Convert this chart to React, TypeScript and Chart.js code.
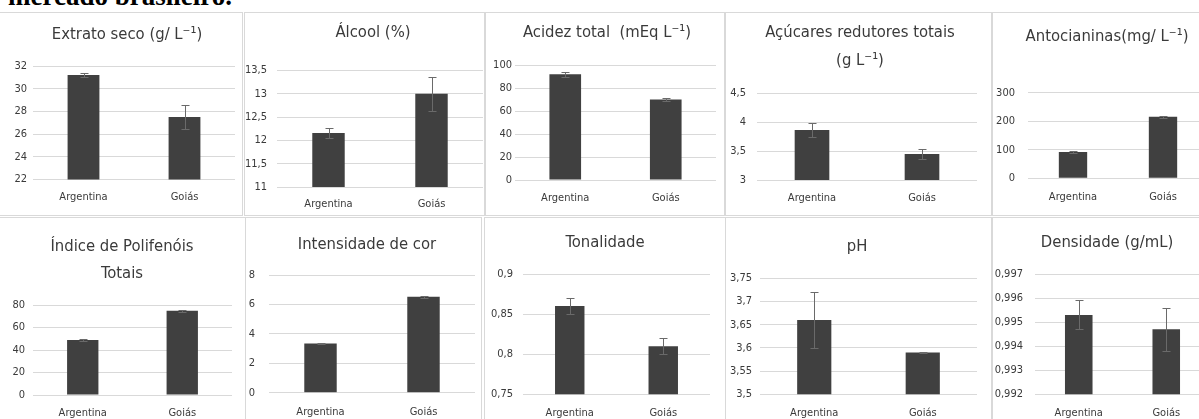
import React, { useEffect, useRef } from "react";
import { Chart, registerables } from "chart.js";

Chart.register(...registerables);

// ---------- DATA ----------
const categories = ["Argentina", "Goiás"];

const extratoSeco = [31.2, 27.5];
const extratoSecoErr = [0.2, 1.05];
const extratoSecoTicks = [22, 24, 26, 28, 30, 32];

const alcool = [12.16, 13.0];
const alcoolErr = [0.1, 0.36];
const alcoolTicks = [11, 11.5, 12, 12.5, 13, 13.5];

const acidez = [92, 70];
const acidezErr = [2.2, 1];
const acidezTicks = [0, 20, 40, 60, 80, 100];

const acucares = [3.86, 3.45];
const acucaresErr = [0.12, 0.08];
const acucaresTicks = [3, 3.5, 4, 4.5];

const antocianinas = [92, 216];
const antocianinasErr = [3, 3];
const antocianinasTicks = [0, 100, 200, 300];

const polifenois = [49, 75];
const polifenoisErr = [0.7, 0.8];
const polifenoisTicks = [0, 20, 40, 60, 80];

const intensidade = [3.35, 6.52];
const intensidadeErr = [0.03, 0.06];
const intensidadeTicks = [0, 2, 4, 6, 8];

const tonalidade = [0.86, 0.81];
const tonalidadeErr = [0.01, 0.01];
const tonalidadeTicks = [0.75, 0.8, 0.85, 0.9];

const ph = [3.66, 3.59];
const phErr = [0.06, 0.002];
const phTicks = [3.5, 3.55, 3.6, 3.65, 3.7, 3.75];

const densidade = [0.9953, 0.9947];
const densidadeErr = [0.0006, 0.0009];
const densidadeTicks = [0.992, 0.993, 0.994, 0.995, 0.996, 0.997];

const titles: (string | string[])[] = [
  "Extrato seco (g/ L⁻¹)",
  "Álcool (%)",
  "Acidez total  (mEq L⁻¹)",
  ["Açúcares redutores totais", "(g L⁻¹)"],
  "Antocianinas(mg/ L⁻¹)",
  ["Índice de Polifenóis", "Totais"],
  "Intensidade de cor",
  "Tonalidade",
  "pH",
  "Densidade (g/mL)",
];

const seriesValues = [extratoSeco, alcool, acidez, acucares, antocianinas, polifenois, intensidade, tonalidade, ph, densidade];
const seriesErrors = [extratoSecoErr, alcoolErr, acidezErr, acucaresErr, antocianinasErr, polifenoisErr, intensidadeErr, tonalidadeErr, phErr, densidadeErr];
const tickSets = [extratoSecoTicks, alcoolTicks, acidezTicks, acucaresTicks, antocianinasTicks, polifenoisTicks, intensidadeTicks, tonalidadeTicks, phTicks, densidadeTicks];

// ---------- LAYOUT (page pixel coordinates) ----------
type Box = {
  x: number; y: number; w: number; h: number;
  L: number; R: number; T: number; B: number;
  tx: number; ty: number; ls: number; ylr: number; xly: number;
};

const boxes: Box[] = [
  { x: -1, y: 12, w: 244, h: 204, L: 33, R: 235, T: 66, B: 179.5, tx: 127, ty: 35, ls: 0, ylr: 27, xly: 197 },
  { x: 244, y: 12, w: 241, h: 204, L: 277, R: 483, T: 70.5, B: 187, tx: 373, ty: 33, ls: 0, ylr: 267, xly: 204 },
  { x: 485, y: 12, w: 240, h: 204, L: 515, R: 716, T: 65, B: 180, tx: 607, ty: 33, ls: 0, ylr: 512, xly: 198 },
  { x: 725, y: 12, w: 267, h: 204, L: 757, R: 977, T: 93, B: 180, tx: 860, ty: 33, ls: 28, ylr: 746, xly: 198 },
  { x: 992, y: 12, w: 230, h: 204, L: 1028, R: 1208, T: 92.7, B: 178.3, tx: 1107, ty: 37, ls: 0, ylr: 1015, xly: 197 },
  { x: -1, y: 217, w: 249, h: 203, L: 33, R: 232, T: 305, B: 395, tx: 122, ty: 247, ls: 27, ylr: 25, xly: 413 },
  { x: 245, y: 217, w: 237, h: 203, L: 269, R: 475, T: 275, B: 392.7, tx: 367, ty: 245, ls: 0, ylr: 255, xly: 412 },
  { x: 484, y: 217, w: 243, h: 203, L: 523, R: 710, T: 274, B: 394.3, tx: 605, ty: 243, ls: 0, ylr: 513, xly: 413 },
  { x: 725, y: 217, w: 267, h: 203, L: 760, R: 977, T: 278.3, B: 394.3, tx: 857, ty: 247, ls: 0, ylr: 752, xly: 413 },
  { x: 992, y: 217, w: 230, h: 203, L: 1035, R: 1210, T: 274, B: 394.3, tx: 1107, ty: 243, ls: 0, ylr: 1023, xly: 413 },
];

const FONT = "'DejaVu Sans Condensed', 'DejaVu Sans', sans-serif";
const TITLE_SIZE = 16.5;
const TICK_SIZE = 11;
const TEXT_COLOR = "#3a3a3a";
const BAR_COLOR = "#404040";
const GRID_COLOR = "#d9d9d9";
const ERR_COLOR = "#6a6a6a";

const fmt = (n: number) => String(Number(n.toFixed(4))).replace(".", ",");

const errorBarPlugin = {
  id: "errorBars",
  afterDatasetsDraw(chart: any, _args: any, opts: any) {
    const errs: number[] = opts.errors || [];
    const meta = chart.getDatasetMeta(0);
    const yScale = chart.scales.y;
    const data = chart.data.datasets[0].data as number[];
    const ctx = chart.ctx;
    ctx.save();
    ctx.strokeStyle = opts.color;
    ctx.lineWidth = 1;
    meta.data.forEach((bar: any, i: number) => {
      const v = data[i];
      const e = errs[i];
      const x = Math.round(bar.x) + 0.5;
      const yTop = Math.round(yScale.getPixelForValue(v + e)) + 0.5;
      const yBot = Math.round(yScale.getPixelForValue(v - e)) + 0.5;
      ctx.beginPath();
      ctx.moveTo(x, yTop);
      ctx.lineTo(x, yBot);
      ctx.moveTo(x - 4, yTop);
      ctx.lineTo(x + 4, yTop);
      ctx.moveTo(x - 4, yBot);
      ctx.lineTo(x + 4, yBot);
      ctx.stroke();
    });
    ctx.restore();
  },
};

const panelTitlePlugin = {
  id: "panelTitle",
  afterDraw(chart: any, _args: any, opts: any) {
    const ctx = chart.ctx;
    const lines: string[] = Array.isArray(opts.text) ? opts.text : [opts.text];
    ctx.save();
    ctx.fillStyle = opts.color;
    ctx.font = `${opts.size}px ${FONT}`;
    ctx.textAlign = "center";
    ctx.textBaseline = "middle";
    lines.forEach((t, k) => ctx.fillText(t, opts.x, opts.y + k * opts.spacing));
    ctx.restore();
  },
};

function Panel({ idx }: { idx: number }) {
  const ref = useRef<HTMLCanvasElement | null>(null);
  const b = boxes[idx];

  useEffect(() => {
    if (!ref.current) return;
    const W = b.w, H = b.h;
    const Lr = b.L - b.x, Rr = b.R - b.x, Tr = b.T - b.y, Br = b.B - b.y;
    const padR = W - Rr;
    const xPad = b.xly - b.B - (TICK_SIZE * 1.2) / 2;
    const ticks = tickSets[idx];

    const chart = new Chart(ref.current, {
      type: "bar",
      data: {
        labels: categories,
        datasets: [
          {
            data: seriesValues[idx],
            backgroundColor: BAR_COLOR,
            borderWidth: 0,
            barPercentage: 0.315,
            categoryPercentage: 1,
          },
        ],
      },
      options: {
        responsive: false,
        animation: false,
        devicePixelRatio: 1,
        layout: { padding: { left: 0, right: padR, top: Tr, bottom: 0 } },
        plugins: {
          legend: { display: false },
          tooltip: { enabled: false },
          title: { display: false },
          errorBars: { errors: seriesErrors[idx], color: ERR_COLOR },
          panelTitle: {
            text: titles[idx],
            x: b.tx - b.x,
            y: b.ty - b.y,
            spacing: b.ls,
            size: TITLE_SIZE,
            color: TEXT_COLOR,
          },
        } as any,
        scales: {
          x: {
            grid: { display: false, drawTicks: false },
            border: { display: false },
            ticks: {
              color: TEXT_COLOR,
              padding: xPad,
              font: { family: FONT, size: TICK_SIZE },
              maxRotation: 0,
            },
            afterFit: (s: any) => {
              s.height = H - Br;
            },
          },
          y: {
            min: ticks[0],
            max: ticks[ticks.length - 1],
            grid: { color: GRID_COLOR, lineWidth: 1, drawTicks: false },
            border: { display: false },
            ticks: {
              color: TEXT_COLOR,
              padding: b.L - b.ylr,
              font: { family: FONT, size: TICK_SIZE },
              callback: (v: any) => fmt(Number(v)),
            },
            afterBuildTicks: (axis: any) => {
              axis.ticks = ticks.map((v) => ({ value: v }));
            },
            afterFit: (s: any) => {
              s.width = Lr;
            },
          },
        },
      },
      plugins: [errorBarPlugin as any, panelTitlePlugin as any],
    });
    return () => chart.destroy();
  }, [idx]);

  return (
    <div
      style={{
        position: "absolute",
        left: b.x,
        top: b.y,
        width: b.w,
        height: b.h,
        background: "#ffffff",
      }}
    >
      <canvas
        ref={ref}
        width={b.w}
        height={b.h}
        style={{ position: "absolute", left: 0, top: 0, width: b.w, height: b.h }}
      />
      <div
        style={{
          position: "absolute",
          left: 0,
          top: 0,
          width: b.w,
          height: b.h,
          boxSizing: "border-box",
          border: `1px solid ${GRID_COLOR}`,
          pointerEvents: "none",
        }}
      />
    </div>
  );
}

export default function App() {
  return (
    <div
      style={{
        position: "fixed",
        left: 0,
        top: 0,
        width: 1199,
        height: 419,
        overflow: "hidden",
        background: "#ffffff",
      }}
    >
      <div
        style={{
          position: "absolute",
          left: 8,
          top: -17,
          fontFamily: "'Liberation Serif', 'DejaVu Serif', serif",
          fontSize: 27,
          fontWeight: "bold",
          lineHeight: 1,
          color: "#000",
          whiteSpace: "nowrap",
        }}
      >
        mercado brasileiro.
      </div>
      {boxes.map((_, i) => (
        <Panel key={i} idx={i} />
      ))}
    </div>
  );
}
